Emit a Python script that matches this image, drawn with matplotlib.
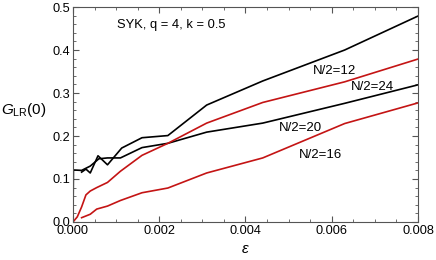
import numpy as np
import matplotlib
matplotlib.use("Agg")
import matplotlib.pyplot as plt
from matplotlib.ticker import MultipleLocator

plt.rcParams['font.family'] = ['Liberation Sans', 'DejaVu Sans']
plt.rcParams['mathtext.fontset'] = 'custom'
plt.rcParams['mathtext.rm'] = 'Liberation Sans'
plt.rcParams['mathtext.it'] = 'Liberation Sans:italic'

# data
eps_n12 = [0.0002, 0.0003, 0.0004, 0.00058, 0.0008, 0.00113, 0.0016, 0.0022, 0.0031, 0.0044, 0.0063, 0.008]
g_n12 = [0.116, 0.123, 0.114, 0.154, 0.133, 0.172, 0.196, 0.201, 0.272, 0.328, 0.400, 0.479]

eps_n20 = [0.0, 0.00001, 0.0002, 0.0004, 0.0006, 0.0008, 0.0011, 0.0016, 0.0022, 0.0031, 0.0044, 0.0063, 0.008]
g_n20 = [0.0, 0.121, 0.120, 0.130, 0.147, 0.149, 0.149, 0.173, 0.183, 0.209, 0.230, 0.276, 0.319]

eps_n24 = [0.0, 0.0001, 0.0002, 0.0003, 0.0004, 0.00055, 0.0008, 0.0011, 0.0016, 0.0022, 0.0031, 0.0044, 0.0063, 0.008]
g_n24 = [0.0, 0.012, 0.035, 0.063, 0.072, 0.080, 0.092, 0.118, 0.155, 0.183, 0.230, 0.278, 0.326, 0.379]

eps_n16 = [0.0002, 0.0003, 0.0004, 0.00055, 0.0008, 0.0011, 0.0016, 0.0022, 0.0031, 0.0044, 0.0063, 0.008]
g_n16 = [0.010, 0.014, 0.018, 0.030, 0.037, 0.050, 0.068, 0.079, 0.114, 0.149, 0.229, 0.277]

red = '#c41414'

fig = plt.figure(figsize=(4.36, 2.6), dpi=100)
ax = fig.add_axes([0.1674, 0.1462, 0.7913, 0.8268])

ax.plot(eps_n12, g_n12, color='black', lw=1.2)
ax.plot(eps_n20, g_n20, color='black', lw=1.2)
ax.plot(eps_n24, g_n24, color=red, lw=1.2)
ax.plot(eps_n16, g_n16, color=red, lw=1.2)

ax.set_xlim(0, 0.008)
ax.set_ylim(0, 0.5)
ax.xaxis.set_major_locator(MultipleLocator(0.002))
ax.xaxis.set_minor_locator(MultipleLocator(0.0005))
ax.yaxis.set_major_locator(MultipleLocator(0.1))
ax.yaxis.set_minor_locator(MultipleLocator(0.02))
ax.xaxis.set_major_formatter(lambda v, p: f"{v:.3f}")
ax.yaxis.set_major_formatter(lambda v, p: f"{v:.1f}")
ax.tick_params(which='both', direction='in', top=True, right=True, labelsize=9.2,
               color='#555555', pad=2)
ax.tick_params(which='major', length=4, width=0.8)
ax.tick_params(which='minor', length=2, width=0.6)
for s in ax.spines.values():
    s.set_color('#555555')
    s.set_linewidth(0.8)

ax.set_xlabel(r'$\epsilon$', fontsize=11, labelpad=4)
ax.set_ylabel(r'$G_{\rm LR}(0)$', fontsize=11, rotation=0, ha='center', va='center')
ax.yaxis.set_label_coords(-0.143, 0.52)

ax.text(0.00102, 0.458, 'SYK, q = 4, k = 0.5', fontsize=9.3, va='center')
ax.text(0.00556, 0.351, 'N/2=12', fontsize=9.5, va='center')
ax.text(0.00644, 0.314, 'N/2=24', fontsize=9.5, va='center')
ax.text(0.00477, 0.219, 'N/2=20', fontsize=9.5, va='center')
ax.text(0.00523, 0.156, 'N/2=16', fontsize=9.5, va='center')

plt.savefig('out.png', dpi=100)
